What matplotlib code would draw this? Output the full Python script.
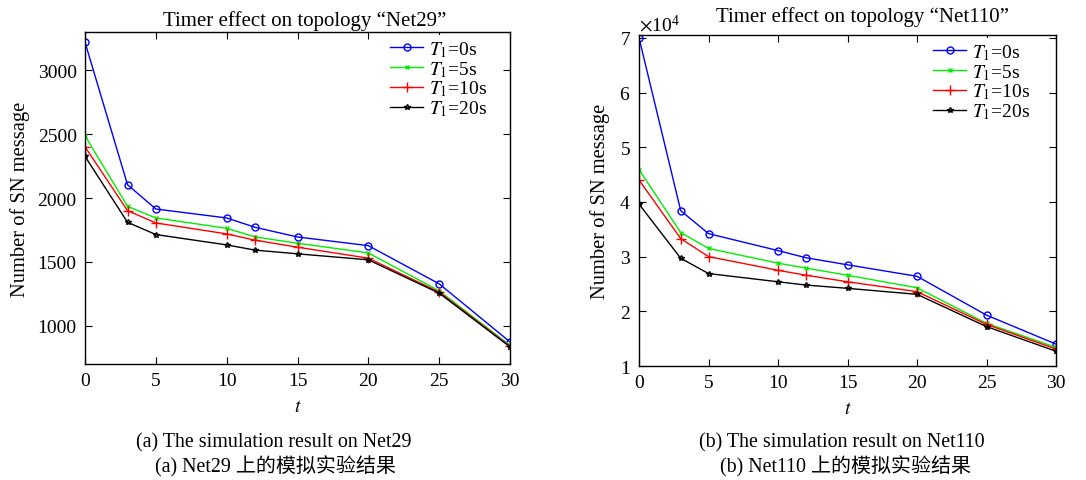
import matplotlib
matplotlib.use("Agg")
import matplotlib.pyplot as plt
from matplotlib.ticker import ScalarFormatter

plt.rcParams['font.family'] = ['Liberation Serif', 'Noto Sans CJK SC']
plt.rcParams['mathtext.fontset'] = 'stix'

t = [0, 3, 5, 10, 12, 15, 20, 25, 30]
labels = ["$T_1$=0s", "$T_1$=5s", "$T_1$=10s", "$T_1$=20s"]

net29_t0 = [3220, 2104, 1914, 1844, 1771, 1695, 1627, 1328, 873]
net29_t5 = [2487, 1935, 1844, 1763, 1695, 1646, 1570, 1273, 846]
net29_t10 = [2401, 1901, 1805, 1719, 1670, 1615, 1529, 1263, 839]
net29_t20 = [2326, 1810, 1714, 1633, 1592, 1563, 1516, 1255, 834]

net110_t0 = [70000, 38400, 34200, 31100, 29800, 28500, 26400, 19300, 14000]
net110_t5 = [45900, 34400, 31500, 28800, 27900, 26600, 24300, 17800, 13400]
net110_t10 = [44000, 33300, 30000, 27500, 26600, 25400, 23600, 17600, 13100]
net110_t20 = [39600, 29700, 26900, 25400, 24800, 24200, 23100, 17200, 12700]

colors = ['#0000ff', '#00ee00', '#ff0000', '#000000']
markers = ['o', 'x', '+', '*']
msizes = [5, 3.5, 7, 4]

fig = plt.figure(figsize=(10.86, 4.81), dpi=100)
ax1 = fig.add_axes([0.0783, 0.2412, 0.3913, 0.690])
ax2 = fig.add_axes([0.5884, 0.237, 0.384, 0.688])

fs = 14

def style(ax, series, title, tx, tpad, leg_anchor):
    for s, c, m, ms, lab in zip(series, colors, markers, msizes, labels):
        ax.plot(t, s, color=c, marker=m, markersize=ms, markerfacecolor='none',
                markeredgecolor=c, markeredgewidth=1, linewidth=1, label=lab)
    ax.set_xlim(0, 30)
    ax.set_xticks([0, 5, 10, 15, 20, 25, 30])
    ax.tick_params(direction='in', top=True, right=True, labelsize=fs, length=5, pad=6)
    ax.set_xlabel('$t$', fontsize=fs, labelpad=6)
    ax.set_ylabel('Number of SN message', fontsize=14.8)
    ax.set_title(title, fontsize=15, pad=tpad, x=tx)
    for sp in ax.spines.values():
        sp.set_linewidth(1)
    leg = ax.legend(loc='upper right', bbox_to_anchor=leg_anchor, fontsize=fs,
                    frameon=True, handlelength=1.7, handletextpad=0.3,
                    labelspacing=0.0, borderaxespad=0.0, borderpad=0.2)
    leg.get_frame().set_edgecolor('none')
    leg.get_frame().set_facecolor('white')
    leg.get_frame().set_alpha(1)

style(ax1, [net29_t0, net29_t5, net29_t10, net29_t20], 'Timer effect on topology “Net29”',
      0.518, 5, (0.955, 0.99))
ax1.set_ylim(700, 3300)
ax1.set_yticks([1000, 1500, 2000, 2500, 3000])
ax1.yaxis.set_label_coords(-0.13, 0.5)

style(ax2, [net110_t0, net110_t5, net110_t10, net110_t20], 'Timer effect on topology “Net110”',
      0.535, 10, (0.947, 0.99))
ax2.set_ylim(10000, 70500)
ax2.set_yticks([10000, 20000, 30000, 40000, 50000, 60000, 70000])
fmt = ScalarFormatter(useMathText=True)
fmt.set_powerlimits((0, 0))
ax2.yaxis.set_major_formatter(fmt)
ax2.yaxis.get_offset_text().set_fontsize(fs)
ax2.yaxis.set_label_coords(-0.07, 0.5)

cfs = 14.4
fig.text(0.2523, 1 - 443/481, '(a) The simulation result on Net29', ha='center', va='center', fontsize=cfs)
fig.text(0.2532, 1 - 467/481, '(a) Net29 上的模拟实验结果', ha='center', va='center', fontsize=cfs)
fig.text(0.7753, 1 - 443/481, '(b) The simulation result on Net110', ha='center', va='center', fontsize=cfs)
fig.text(0.7790, 1 - 467/481, '(b) Net110 上的模拟实验结果', ha='center', va='center', fontsize=cfs)

fig.savefig('out.png', dpi=100, facecolor='white')
